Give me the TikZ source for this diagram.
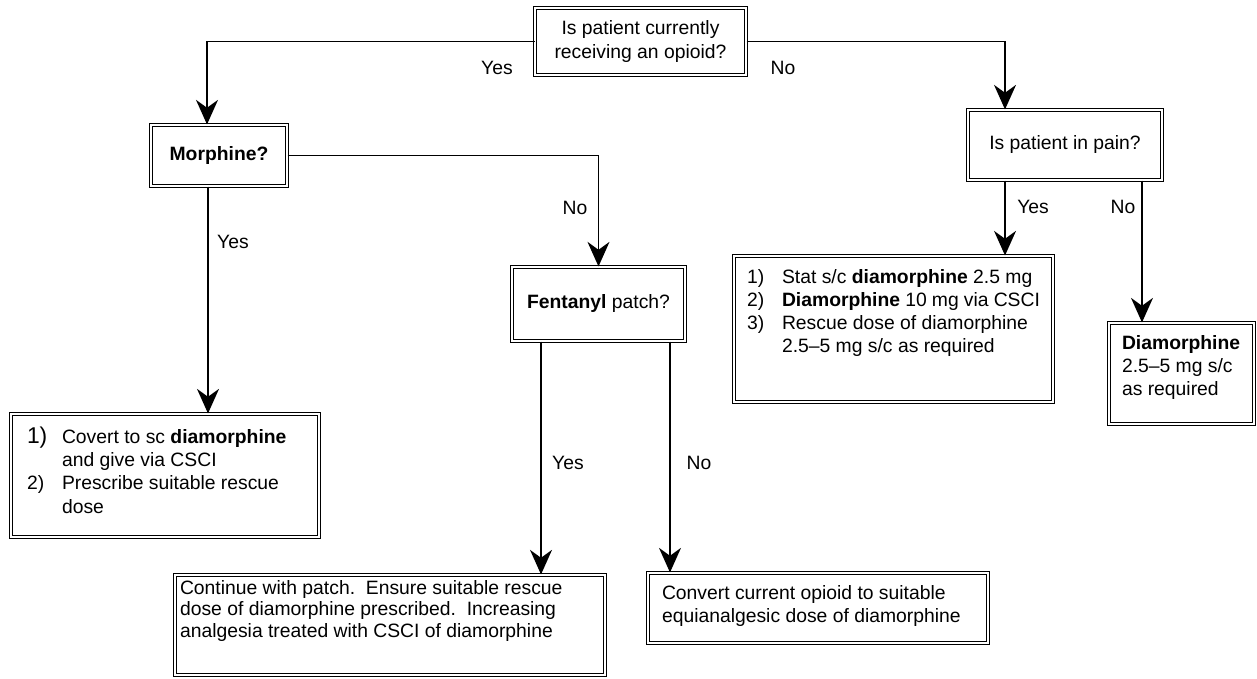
\documentclass[tikz,border=0pt]{standalone}
\usepackage{fontspec}
\setmainfont{Liberation Sans}
\usetikzlibrary{arrows.meta,calc}
\newcommand{\topbox}[3]{\parbox[c][#2][t]{#1}{\raggedright #3}}
\newcommand{\itm}[1]{\makebox[0.7cm][l]{#1}}

\begin{document}
\begin{tikzpicture}[x=0.02cm,y=-0.02cm,
    every node/.style={font=\fontsize{11}{13.2}\selectfont},
    box/.style={draw,double,double distance=1.1pt,line width=0.6pt},
    qbox/.style={box,align=center},
    arr/.style={line width=1pt,-{Stealth[length=14pt,width=12.5pt,inset=4.5pt]}},
    lbl/.style={inner sep=1pt}]
			%%%%% START %%%%%
			\useasboundingbox (0,0) rectangle (1257,679);
			
			% questions
			\node[qbox,minimum width=4.22cm,minimum height=1.34cm] (opioid) at (640.5,41.5) {Is patient currently\\receiving an opioid?};
			\node[qbox,minimum width=2.72cm,minimum height=1.22cm] (morph) at (219,155.5) {\textbf{Morphine?}};
			\node[qbox,minimum width=3.88cm,minimum height=1.4cm] (pain) at (1065,145) {Is patient in pain?};
			\node[qbox,minimum width=3.46cm,minimum height=1.48cm] (fent) at (598.5,304) {\textbf{Fentanyl} patch?};
			
			% actions
			\node[box,inner xsep=0.32cm,inner ysep=0.26cm] (covert) at (165,475.5) {\topbox{5.52cm}{1.94cm}{%
				\itm{\fontsize{13}{13}\selectfont 1)}Covert to sc \textbf{diamorphine}\\
				\itm{}and give via CSCI\\
				\itm{2)}Prescribe suitable rescue\\
				\itm{}dose}};
			\node[box,inner xsep=0.26cm,inner ysep=0.26cm] (stat) at (893.5,329) {\topbox{5.86cm}{2.4cm}{%
				\itm{1)}Stat s/c \textbf{diamorphine} 2.5 mg\\
				\itm{2)}\textbf{Diamorphine} 10 mg via CSCI\\
				\itm{3)}Rescue dose of diamorphine\\
				\itm{}2.5--5 mg s/c as required}};
			\node[box,inner xsep=0.26cm,inner ysep=0.24cm] (diam) at (1181.5,373.5) {\topbox{2.38cm}{1.54cm}{%
				\textbf{Diamorphine}\\2.5--5 mg s/c\\as required}};
			\node[box,inner xsep=0.1cm,inner ysep=0.1cm] (cont) at (390,625) {\topbox{8.4cm}{1.8cm}{%
				\fontsize{11}{12.5}\selectfont
				Continue with patch.\ \ Ensure suitable rescue\\
				dose of diamorphine prescribed.\ \ Increasing\\
				analgesia treated with CSCI of diamorphine}};
			\node[box,inner xsep=0.28cm,inner ysep=0.24cm] (conv) at (818,608) {\topbox{6.24cm}{0.92cm}{%
				Convert current opioid to suitable\\
				equianalgesic dose of diamorphine}};
			
			% branch points
			\coordinate (mTop) at ([xshift=-0.24cm]morph.north);
			\coordinate (pTop) at ([xshift=-1.2cm]pain.north);
			\coordinate (mYes) at ([xshift=-0.22cm]morph.south);
			\coordinate (fYes) at ([xshift=-1.15cm]fent.south);
			\coordinate (fNo) at ([xshift=1.43cm]fent.south);
			\coordinate (pYes) at ([xshift=-1.2cm]pain.south);
			\coordinate (pNo) at ([xshift=1.54cm]pain.south);
			
			\draw[arr] (opioid.west) -| (mTop);
			\draw[arr] (opioid.east) -| (pTop);
			\draw[arr] (morph.east) -| (fent.north);
			\draw[arr] (mYes) -- (mYes |- covert.north);
			\draw[arr] (fYes) -- (fYes |- cont.north);
			\draw[arr] (fNo) -- (fNo |- conv.north);
			\draw[arr] (pYes) -- (pYes |- stat.north);
			\draw[arr] (pNo) -- (pNo |- diam.north);
			
			% labels
			\node[lbl] (yesA) at (497,68) {Yes};
			\node[lbl] (noA) at (783,68) {No};
			\node[lbl] (yesB) at (233,242) {Yes};
			\node[lbl] (noB) at (575,208) {No};
			\node[lbl] (yesC) at (568,463) {Yes};
			\node[lbl] (noC) at (699,463) {No};
			\node[lbl] (yesD) at (1033,207) {Yes};
			\node[lbl] (noD) at (1123,207) {No};
			%%%%% END %%%%%
\end{tikzpicture}
\end{document}
